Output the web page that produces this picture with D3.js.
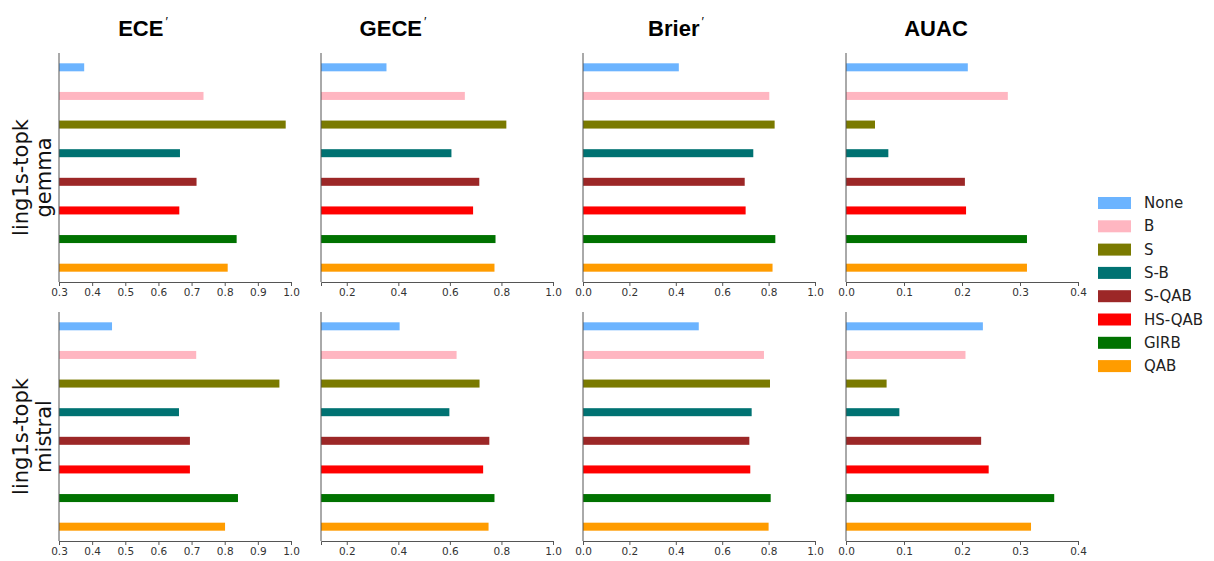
<!DOCTYPE html>
<meta charset="utf-8">
<style>
  body { margin: 0; background: #fff; }
  .tick text { font-family: "DejaVu Sans", sans-serif; font-size: 10.5px; fill: #333; }
  .domain, .tick line { stroke: #555; }
</style>
<body>
<div id="chart"></div>
<script src="https://d3js.org/d3.v7.min.js"></script>
<script>
  // methods, drawn top to bottom in each panel
  var methods = ['None', 'B', 'S', 'S-B', 'S-QAB', 'HS-QAB', 'GIRB', 'QAB'];
  var colors = ['#6cb4ff', '#ffb6c1', '#7a7a00', '#007272', '#9c2727', '#ff0000', '#007200', '#ff9c00'];

  var metrics = ['ECE', 'GECE', 'Brier', 'AUAC'];
  var primed = [true, true, true, false];
  var domains = [[0.3, 1.0], [0.1, 1.0], [0.0, 1.0], [0.0, 0.4]];
  var tickValues = [
    [0.3, 0.4, 0.5, 0.6, 0.7, 0.8, 0.9, 1.0],
    [0.2, 0.4, 0.6, 0.8, 1.0],
    [0.0, 0.2, 0.4, 0.6, 0.8, 1.0],
    [0.0, 0.1, 0.2, 0.3, 0.4]
  ];

  var rows = [['ling1s-topk', 'gemma'], ['ling1s-topk', 'mistral']];

  // values per metric, in methods order
  var gemmaECE   = [0.376, 0.736, 0.984, 0.665, 0.715, 0.663, 0.836, 0.809];
  var gemmaGECE  = [0.354, 0.658, 0.819, 0.606, 0.714, 0.690, 0.777, 0.773];
  var gemmaBrier = [0.413, 0.803, 0.826, 0.734, 0.697, 0.701, 0.829, 0.817];
  var gemmaAUAC  = [0.210, 0.279, 0.050, 0.073, 0.205, 0.207, 0.312, 0.312];

  var mistralECE   = [0.460, 0.714, 0.965, 0.662, 0.695, 0.695, 0.840, 0.801];
  var mistralGECE  = [0.405, 0.626, 0.715, 0.598, 0.753, 0.729, 0.773, 0.750];
  var mistralBrier = [0.499, 0.780, 0.806, 0.727, 0.717, 0.721, 0.809, 0.800];
  var mistralAUAC  = [0.236, 0.206, 0.070, 0.092, 0.233, 0.246, 0.359, 0.319];

  var values = [
    [gemmaECE, gemmaGECE, gemmaBrier, gemmaAUAC],
    [mistralECE, mistralGECE, mistralBrier, mistralAUAC]
  ];

  var W = 1214, H = 561;
  var colLeft = [59, 321, 583, 846];
  var panelW = 232;
  var rowTop = [53, 312];
  var panelH = 229;
  var titleX = [143, 393, 676, 936];

  var svg = d3.select('#chart').append('svg')
    .attr('width', W).attr('height', H);

  var yScale = d3.scaleBand()
    .domain(methods)
    .range([0, panelH]);
  var barH = 8;

  // column titles
  metrics.forEach(function (m, c) {
    var t = svg.append('text')
      .attr('x', titleX[c])
      .attr('y', 36)
      .attr('text-anchor', 'middle')
      .style('font-family', '"Liberation Sans", Arial, sans-serif')
      .style('font-weight', 'bold')
      .style('font-size', '22px')
      .text(m);
    if (primed[c]) {
      t.append('tspan')
        .attr('dx', 2)
        .attr('dy', -10)
        .style('font-size', '13px')
        .style('font-weight', 'normal')
        .text('\u2032');
    }
  });

  // row labels
  rows.forEach(function (lines, r) {
    var cy = rowTop[r] + panelH / 2 + 10;
    var t = svg.append('text')
      .attr('transform', 'translate(' + 28 + ',' + cy + ') rotate(-90)')
      .attr('text-anchor', 'middle')
      .style('font-family', '"DejaVu Sans", sans-serif')
      .style('font-size', '21px')
      .style('fill', '#111');
    lines.forEach(function (l, i) {
      t.append('tspan').attr('x', 0).attr('dy', i === 0 ? 0 : 23).text(l);
    });
  });

  rows.forEach(function (row, r) {
    metrics.forEach(function (m, c) {
      var x = d3.scaleLinear().domain(domains[c]).range([0, panelW]);
      var g = svg.append('g')
        .attr('transform', 'translate(' + colLeft[c] + ',' + rowTop[r] + ')');

      g.selectAll('rect')
        .data(values[r][c])
        .enter()
        .append('rect')
        .attr('x', 0)
        .attr('y', function (d, i) { return yScale(methods[i]) + yScale.bandwidth() / 2 - barH / 2; })
        .attr('width', function (d) { return x(d) - x(domains[c][0]); })
        .attr('height', barH)
        .attr('fill', function (d, i) { return colors[i]; });

      g.append('g')
        .attr('transform', 'translate(0,' + panelH + ')')
        .call(d3.axisBottom(x).tickValues(tickValues[c]).tickFormat(d3.format('.1f')).tickSizeOuter(0).tickSize(4));

      g.append('line')
        .attr('x1', 0).attr('x2', 0)
        .attr('y1', 0).attr('y2', panelH)
        .attr('stroke', '#555');
    });
  });

  // legend
  var legend = svg.append('g').attr('transform', 'translate(1098,197)');
  methods.forEach(function (m, i) {
    var lg = legend.append('g').attr('transform', 'translate(0,' + (i * 23.3) + ')');
    lg.append('rect').attr('width', 33).attr('height', 12).attr('fill', colors[i]);
    lg.append('text')
      .attr('x', 46).attr('y', 11)
      .style('font-family', '"DejaVu Sans", sans-serif')
      .style('font-size', '15px')
      .style('fill', '#222')
      .text(m);
  });
</script>
</body>
